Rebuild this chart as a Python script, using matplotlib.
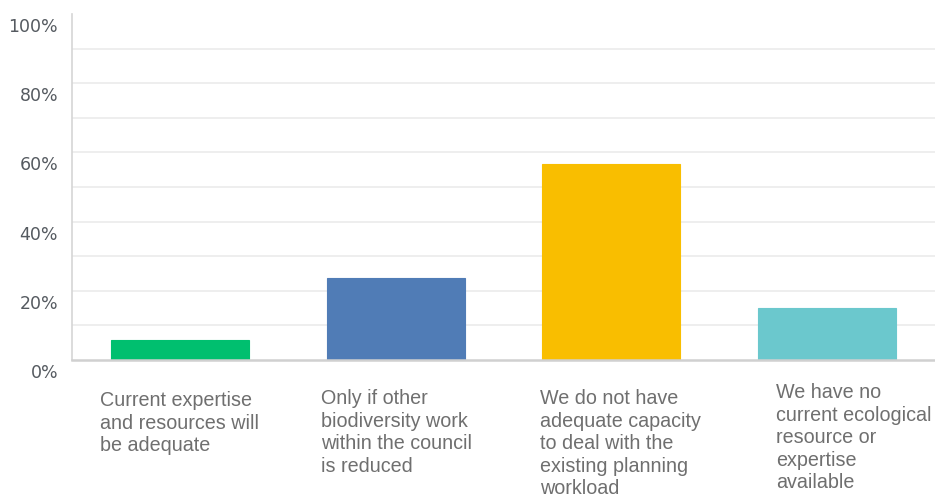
import matplotlib
matplotlib.use("Agg")
import matplotlib.pyplot as plt
import matplotlib.transforms as mtransforms

categories = [
    "Current expertise\nand resources will\nbe adequate",
    "Only if other\nbiodiversity work\nwithin the council\nis reduced",
    "We do not have\nadequate capacity\nto deal with the\nexisting planning\nworkload",
    "We have no\ncurrent ecological\nresource or\nexpertise\navailable",
]
values = [5.8, 23.6, 56.6, 15.0]
colors = ["#00BF6F", "#507CB6", "#F9BE00", "#6BC8CD"]
yticks = [0, 20, 40, 60, 80, 100]
ytick_labels = ["0%", "20%", "40%", "60%", "80%", "100%"]
grid_levels = [10, 20, 30, 40, 50, 60, 70, 80, 90]

# label placement (pixel offsets from bar centre, top y in pixels)
label_dx = [-80, -75, -71, -51]
label_top = [391, 389, 389, 383]

W, H = 935, 495
fig = plt.figure(figsize=(W / 100, H / 100), dpi=100)
ax = fig.add_axes([72 / W, (H - 360) / H, (W - 72) / W, 346 / H])

x = list(range(len(categories)))
for xi, v, c in zip(x, values, colors):
    ax.bar(xi, v, width=0.64, color=c, edgecolor=c, linewidth=0.8, zorder=3)

for g in grid_levels:
    ax.axhline(g, color="#ebebeb", lw=1.2, zorder=1)

ax.set_xlim(-0.5, 3.5)
ax.set_ylim(0, 100)
ax.set_xticks([])
ax.set_yticks(yticks)
ax.set_yticklabels(ytick_labels, fontsize=12.5, color="#555a60",
                   family="DejaVu Sans")
ax.tick_params(axis="y", length=0, pad=10)
offset = mtransforms.ScaledTranslation(0, -11 / 100, fig.dpi_scale_trans)
for lab in ax.get_yticklabels():
    lab.set_transform(lab.get_transform() + offset)

for s in ["top", "right"]:
    ax.spines[s].set_visible(False)
ax.spines["left"].set_color("#d5d5d5")
ax.spines["left"].set_linewidth(1.2)
ax.spines["bottom"].set_color("#d0d0d0")
ax.spines["bottom"].set_linewidth(1.8)
ax.spines["bottom"].set_zorder(4)

for xi, lab, dx, top in zip(x, categories, label_dx, label_top):
    tr = mtransforms.blended_transform_factory(ax.transData, fig.transFigure)
    tr = tr + mtransforms.ScaledTranslation(dx / 100, 0, fig.dpi_scale_trans)
    ax.text(xi, (H - top) / H, lab, transform=tr, ha="left", va="top",
            fontsize=14.2, color="#6f6f6f", family="Liberation Sans",
            linespacing=1.24, clip_on=False)

fig.savefig("out.png", dpi=100)
